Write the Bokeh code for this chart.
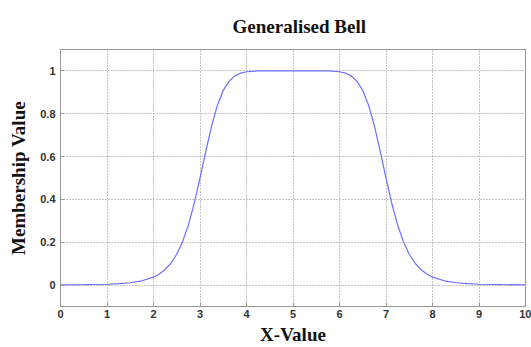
from bokeh.plotting import figure
from bokeh.models import Range1d, FixedTicker
from bokeh.embed import file_html
from bokeh.resources import INLINE

# Values
x_vals = [0, 0.5, 1, 1.25, 1.5, 1.75, 2, 2.125, 2.25, 2.375, 2.5, 2.625, 2.75, 2.875,
          3, 3.125, 3.25, 3.375, 3.5, 3.625, 3.75, 3.875, 4, 4.25, 4.5, 5, 5.5, 5.75,
          6, 6.125, 6.25, 6.375, 6.5, 6.625, 6.75, 6.875, 7, 7.125, 7.25, 7.375, 7.5,
          7.625, 7.75, 7.875, 8, 8.25, 8.5, 8.75, 9, 9.5, 10]
y_vals = [0.001, 0.002, 0.004, 0.007, 0.011, 0.020, 0.037, 0.052, 0.073, 0.102, 0.144, 0.202, 0.280, 0.381,
          0.500, 0.626, 0.744, 0.840, 0.909, 0.952, 0.977, 0.990, 0.996, 1.0, 1.0, 1.0, 1.0, 1.0,
          0.996, 0.990, 0.977, 0.952, 0.909, 0.840, 0.744, 0.626, 0.500, 0.381, 0.280, 0.202, 0.144,
          0.102, 0.073, 0.052, 0.037, 0.020, 0.011, 0.007, 0.004, 0.002, 0.001]
x_ticks = [0, 1, 2, 3, 4, 5, 6, 7, 8, 9, 10]
y_ticks = [0, 0.2, 0.4, 0.6, 0.8, 1]

TITLE = "Generalised Bell"
XLABEL = "X-Value"
YLABEL = "Membership Value"

p = figure(width=531, height=347, output_backend="svg", toolbar_location=None,
           x_range=Range1d(0, 10), y_range=Range1d(-0.1, 1.1),
           min_border_left=60, min_border_right=6, min_border_top=49, min_border_bottom=41)

p.title.text = TITLE
p.title.align = "left"
p.title.offset = 172
p.title.text_font = "Liberation Serif"
p.title.text_font_size = "19px"
p.title.text_font_style = "bold"
p.title.text_color = "#111111"
p.title.standoff = 25

p.line(x_vals, y_vals, line_color="#6f6fff", line_width=1.2)

p.outline_line_color = "#999999"
p.outline_line_width = 1
p.background_fill_color = "white"
p.border_fill_color = "white"

for g, ticks in ((p.xgrid, x_ticks), (p.ygrid, y_ticks)):
    g.ticker = FixedTicker(ticks=ticks)
    g.grid_line_color = "#888888"
    g.grid_line_dash = "1 2"
    g.grid_line_width = 1

xa = p.xaxis[0]
ya = p.yaxis[0]
xa.ticker = FixedTicker(ticks=x_ticks)
ya.ticker = FixedTicker(ticks=y_ticks)
xa.major_label_overrides = {t: str(t) for t in x_ticks}
ya.major_label_overrides = {0: "0", 0.2: "0.2", 0.4: "0.4", 0.6: "0.6", 0.8: "0.8", 1: "1"}
xa.axis_label = XLABEL
ya.axis_label = YLABEL
for ax in (xa, ya):
    ax.axis_line_color = "#999999"
    ax.major_tick_line_color = "#999999"
    ax.major_tick_in = 4
    ax.major_tick_out = 0
    ax.minor_tick_line_color = None
    ax.major_label_text_font = "Liberation Sans"
    ax.major_label_text_font_size = "11px"
    ax.major_label_text_font_style = "bold"
    ax.major_label_text_color = "#333333"
    ax.axis_label_text_font = "Liberation Serif"
    ax.axis_label_text_font_size = "19px"
    ax.axis_label_text_font_style = "bold"
    ax.axis_label_text_color = "#111111"
xa.major_label_standoff = 3
xa.axis_label_standoff = 3
ya.major_label_standoff = 5
ya.axis_label_standoff = 8

open("out.html", "w").write(file_html(p, INLINE))
